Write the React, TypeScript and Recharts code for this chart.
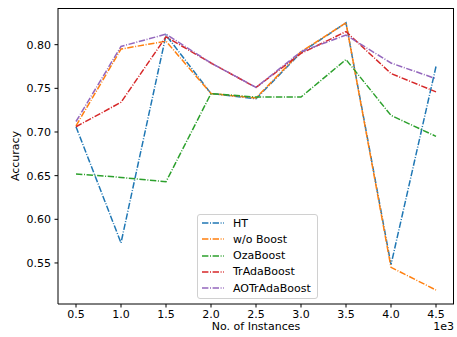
import { LineChart, Line, XAxis, YAxis } from "recharts"

const instances = [500, 1000, 1500, 2000, 2500, 3000, 3500, 4000, 4500]
const ht = [0.706, 0.573, 0.811, 0.744, 0.738, 0.791, 0.825, 0.548, 0.775]
const woBoost = [0.707, 0.795, 0.804, 0.744, 0.739, 0.792, 0.825, 0.545, 0.519]
const ozaBoost = [0.652, 0.648, 0.643, 0.744, 0.740, 0.740, 0.783, 0.719, 0.695]
const trAdaBoost = [0.706, 0.734, 0.809, 0.779, 0.751, 0.790, 0.815, 0.767, 0.746]
const aoTrAdaBoost = [0.712, 0.798, 0.812, 0.779, 0.751, 0.792, 0.811, 0.779, 0.761]

const xTicks = [500, 1000, 1500, 2000, 2500, 3000, 3500, 4000, 4500]
const yTicks = [0.55, 0.6, 0.65, 0.7, 0.75, 0.8]

const series = [
  { key: "ht", name: "HT", color: "#1f77b4", values: ht },
  { key: "wo", name: "w/o Boost", color: "#ff7f0e", values: woBoost },
  { key: "oza", name: "OzaBoost", color: "#2ca02c", values: ozaBoost },
  { key: "tra", name: "TrAdaBoost", color: "#d62728", values: trAdaBoost },
  { key: "aot", name: "AOTrAdaBoost", color: "#9467bd", values: aoTrAdaBoost },
]

const data = instances.map((x, i) => {
  const row: Record<string, number> = { x }
  series.forEach((s) => {
    row[s.key] = s.values[i]
  })
  return row
})

const FONT = "'DejaVu Sans', sans-serif"
const FS = 11
const DASH = "6.4 1.6 1 1.6"
const tickStyle = { fill: "#000", fontSize: FS, fontFamily: FONT }

// plot box (matches chart margins below)
const PLOT = { left: 58, top: 8, width: 396, height: 296 }

const LegendBox = () => (
  <div
    style={{
      position: "absolute",
      left: 197,
      top: 214,
      width: 111,
      height: 83,
      border: "1px solid #d0d0d0",
      borderRadius: 3,
      background: "rgba(255,255,255,0.8)",
      padding: "0 4px",
      fontFamily: FONT,
      fontSize: FS,
      color: "#000",
    }}
  >
    {series.map((s) => (
      <div key={s.key} style={{ display: "flex", alignItems: "center", height: 16.25, whiteSpace: "nowrap" }}>
        <svg width={22} height={4} style={{ marginRight: 9 }}>
          <line x1={0} y1={2} x2={22} y2={2} stroke={s.color} strokeWidth={1.5} strokeDasharray={DASH} />
        </svg>
        <span>{s.name}</span>
      </div>
    ))}
  </div>
)

export default function App() {
  return (
    <div style={{ position: "absolute", left: 0, top: 0, width: 457, height: 337, background: "#fff" }}>
      <LineChart width={457} height={337} data={data} margin={{ top: 8, right: 3, left: 0, bottom: 0 }}>
        <XAxis
          dataKey="x"
          type="number"
          domain={[300, 4700]}
          ticks={xTicks}
          tickFormatter={(v: number) => (v / 1000).toFixed(1)}
          tick={tickStyle}
          tickSize={3.5}
          tickMargin={3}
          stroke="#000"
          height={33}
          allowDataOverflow
          label={(props: any) => {
            const vb = props.viewBox
            return (
              <g>
                <text x={vb.x + vb.width / 2} y={vb.y + 26} textAnchor="middle" fontSize={FS} fontFamily={FONT} fill="#000">
                  No. of Instances
                </text>
                <text x={vb.x + vb.width} y={vb.y + 26} textAnchor="end" fontSize={FS} fontFamily={FONT} fill="#000">
                  1e3
                </text>
              </g>
            )
          }}
        />
        <YAxis
          type="number"
          domain={[0.503, 0.842]}
          ticks={yTicks}
          tickFormatter={(v: number) => v.toFixed(2)}
          tick={tickStyle}
          tickSize={3.5}
          tickMargin={3.5}
          stroke="#000"
          width={58}
          allowDataOverflow
          label={(props: any) => {
            const vb = props.viewBox
            const cy = vb.y + vb.height / 2
            return (
              <text
                x={15}
                y={cy}
                transform={`rotate(-90, 15, ${cy})`}
                textAnchor="middle"
                dominantBaseline="central"
                fontSize={FS}
                fontFamily={FONT}
                fill="#000"
              >
                Accuracy
              </text>
            )
          }}
        />
        {series.map((s) => (
          <Line
            key={s.key}
            dataKey={s.key}
            name={s.name}
            stroke={s.color}
            strokeWidth={1.5}
            strokeDasharray={DASH}
            dot={false}
            activeDot={false}
            isAnimationActive={false}
          />
        ))}
      </LineChart>
      <div
        style={{
          position: "absolute",
          left: PLOT.left,
          top: PLOT.top,
          width: PLOT.width,
          height: PLOT.height,
          borderTop: "1px solid #000",
          borderRight: "1px solid #000",
          boxSizing: "border-box",
          pointerEvents: "none",
        }}
      />
      <LegendBox />
    </div>
  )
}
